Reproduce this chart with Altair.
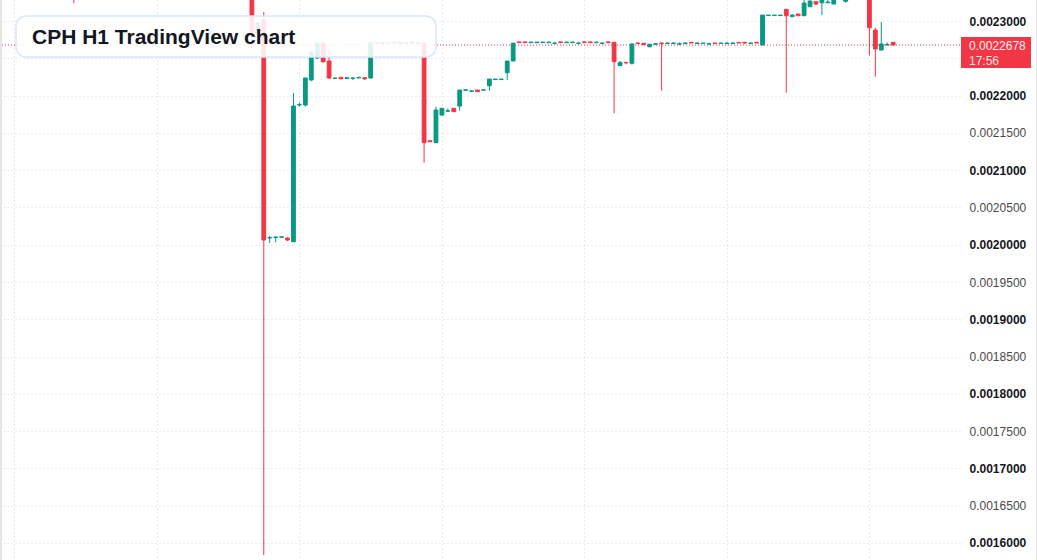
import altair as alt
import pandas as pd

# ---------------- data (hourly candles, index = hour offset) ----------------
idx = [-32, -2, -1, 0, 1, 2, 3, 4, 5, 6, 7, 8, 9, 10, 11, 12, 13, 14, 15, 16, 17, 18, 19,
       20, 21, 22, 23, 24, 25, 26, 27, 28, 29, 30, 31, 32, 33, 34, 35, 36, 37, 38, 39,
       40, 41, 42, 43, 44, 45, 46, 47, 48, 49, 50, 51, 52, 53, 54, 55, 56, 57, 58, 59,
       60, 61, 62, 63, 64, 65, 66, 67, 68, 69, 70, 71, 72, 73, 74, 75, 76, 77, 78, 79,
       80, 81, 82, 83, 84, 85, 86, 87, 88, 89, 90, 91, 92, 93, 94, 95, 96, 98,
       102, 103, 104, 105, 106]

opens = [0.0023450, 0.0023400, 0.0022839, 0.0023013, 0.0020090, 0.0020096, 0.0020100, 0.0020090,
         0.0020040, 0.0021874, 0.0021874, 0.0022209, 0.0022504, 0.0022705, 0.0022464, 0.0022230,
         0.0022245, 0.0022230, 0.0022230, 0.0022236, 0.0022240, 0.0022236, 0.0022715,
         0.0022700, 0.0022705, 0.0022714, 0.0022702, 0.0022705, 0.0022714, 0.0022700,
         0.0022705, 0.0021395, 0.0021368, 0.0021739, 0.0021790, 0.0021829, 0.0021860,
         0.0022070, 0.0022058, 0.0022075, 0.0022072, 0.0022132, 0.0022215,
         0.0022215, 0.0022307, 0.0022464, 0.0022720, 0.0022720, 0.0022710, 0.0022710,
         0.0022710, 0.0022710, 0.0022700, 0.0022720, 0.0022710, 0.0022710, 0.0022700,
         0.0022720, 0.0022720, 0.0022710, 0.0022700, 0.0022720, 0.0022714,
         0.0022401, 0.0022446, 0.0022433, 0.0022705, 0.0022701, 0.0022655, 0.0022688,
         0.0022705, 0.0022698, 0.0022698, 0.0022690, 0.0022698, 0.0022714, 0.0022698,
         0.0022700, 0.0022690, 0.0022705, 0.0022700, 0.0022698, 0.0022698,
         0.0022714, 0.0022714, 0.0022698, 0.0022714, 0.0022678, 0.0023073, 0.0023073,
         0.0023073, 0.0023157, 0.0023058, 0.0023094, 0.0023071, 0.0023192, 0.0023259,
         0.0023245, 0.0023245, 0.0023228, 0.0023265,
         0.0023320, 0.0022879, 0.0022611, 0.0022678, 0.0022714]

highs = [0.0023520, 0.0023450, 0.0023000, 0.0023121, 0.0020117, 0.0020117, 0.0020106, 0.0020103,
         0.0022034, 0.0021904, 0.0022236, 0.0022600, 0.0022714, 0.0022714, 0.0022584, 0.0022240,
         0.0022245, 0.0022240, 0.0022245, 0.0022245, 0.0022240, 0.0022714, 0.0022720,
         0.0022714, 0.0022714, 0.0022714, 0.0022714, 0.0022712, 0.0022718, 0.0022709,
         0.0022715, 0.0021395, 0.0021851, 0.0021835, 0.0021829, 0.0021829, 0.0022075,
         0.0022078, 0.0022075, 0.0022075, 0.0022078, 0.0022222, 0.0022222,
         0.0022222, 0.0022464, 0.0022714, 0.0022720, 0.0022720, 0.0022718, 0.0022718,
         0.0022718, 0.0022718, 0.0022714, 0.0022720, 0.0022718, 0.0022718, 0.0022714,
         0.0022720, 0.0022720, 0.0022718, 0.0022714, 0.0022720, 0.0022720,
         0.0022460, 0.0022450, 0.0022701, 0.0022714, 0.0022705, 0.0022695, 0.0022705,
         0.0022714, 0.0022714, 0.0022714, 0.0022714, 0.0022714, 0.0022718, 0.0022714,
         0.0022705, 0.0022710, 0.0022705, 0.0022705, 0.0022714, 0.0022714,
         0.0022714, 0.0022722, 0.0022714, 0.0022714, 0.0023080, 0.0023080, 0.0023080,
         0.0023080, 0.0023157, 0.0023094, 0.0023094, 0.0023290, 0.0023275, 0.0023268,
         0.0023320, 0.0023310, 0.0023320, 0.0023320,
         0.0023340, 0.0022910, 0.0022987, 0.0022714, 0.0022714]

lows = [0.0023237, 0.0022625, 0.0022800, 0.0015839, 0.0020023, 0.0020030, 0.0020100, 0.0020050,
        0.0020040, 0.0021851, 0.0021851, 0.0022195, 0.0022490, 0.0022440, 0.0022222, 0.0022230,
        0.0022225, 0.0022230, 0.0022209, 0.0022236, 0.0022209, 0.0022230, 0.0022705,
        0.0022700, 0.0022700, 0.0022700, 0.0022698, 0.0022705, 0.0022700, 0.0022698,
        0.0021100, 0.0021381, 0.0021368, 0.0021730, 0.0021784, 0.0021784, 0.0021797,
        0.0022070, 0.0022052, 0.0022052, 0.0022072, 0.0022065, 0.0022215,
        0.0022215, 0.0022209, 0.0022464, 0.0022710, 0.0022710, 0.0022710, 0.0022710,
        0.0022710, 0.0022710, 0.0022690, 0.0022710, 0.0022710, 0.0022710, 0.0022690,
        0.0022710, 0.0022710, 0.0022710, 0.0022690, 0.0022710, 0.0021762,
        0.0022401, 0.0022419, 0.0022415, 0.0022698, 0.0022683, 0.0022650, 0.0022680,
        0.0022065, 0.0022690, 0.0022690, 0.0022675, 0.0022690, 0.0022705, 0.0022690,
        0.0022700, 0.0022680, 0.0022698, 0.0022700, 0.0022690, 0.0022690,
        0.0022705, 0.0022692, 0.0022690, 0.0022705, 0.0022678, 0.0023073, 0.0023073,
        0.0023073, 0.0022039, 0.0023058, 0.0023071, 0.0023071, 0.0023192, 0.0023215,
        0.0023080, 0.0023245, 0.0023228, 0.0023245,
        0.0022535, 0.0022253, 0.0022611, 0.0022678, 0.0022678]

closes = [0.0023400, 0.0022839, 0.0022973, 0.0020063, 0.0020096, 0.0020103, 0.0020106, 0.0020063,
          0.0021860, 0.0021880, 0.0022236, 0.0022584, 0.0022705, 0.0022454, 0.0022236, 0.0022236,
          0.0022225, 0.0022240, 0.0022236, 0.0022245, 0.0022225, 0.0022705, 0.0022705,
          0.0022709, 0.0022712, 0.0022705, 0.0022709, 0.0022712, 0.0022705, 0.0022707,
          0.0021368, 0.0021381, 0.0021807, 0.0021829, 0.0021797, 0.0021784, 0.0022075,
          0.0022078, 0.0022064, 0.0022052, 0.0022078, 0.0022222, 0.0022222,
          0.0022222, 0.0022464, 0.0022701, 0.0022710, 0.0022710, 0.0022718, 0.0022718,
          0.0022718, 0.0022718, 0.0022705, 0.0022710, 0.0022718, 0.0022718, 0.0022705,
          0.0022710, 0.0022710, 0.0022718, 0.0022705, 0.0022710, 0.0022454,
          0.0022446, 0.0022440, 0.0022692, 0.0022698, 0.0022683, 0.0022688, 0.0022695,
          0.0022698, 0.0022705, 0.0022705, 0.0022695, 0.0022705, 0.0022705, 0.0022705,
          0.0022705, 0.0022695, 0.0022698, 0.0022705, 0.0022705, 0.0022705,
          0.0022705, 0.0022705, 0.0022705, 0.0022705, 0.0023080, 0.0023080, 0.0023080,
          0.0023080, 0.0023071, 0.0023080, 0.0023071, 0.0023241, 0.0023268, 0.0023228,
          0.0023300, 0.0023255, 0.0023300, 0.0023300,
          0.0022910, 0.0022625, 0.0022692, 0.0022685, 0.0022678]

# y axis tick labels
yticks = [0.00160, 0.00165, 0.00170, 0.00175, 0.00180, 0.00185, 0.00190, 0.00195,
          0.00200, 0.00205, 0.00210, 0.00215, 0.00220, 0.00225, 0.00230]
# day separators (hour index)
xgrid = [-42, -18, 6, 30, 54, 78, 102]

last_price = [0.0022678]
last_price_label = ["0.0022678"]
countdown_label = ["17:56"]
title_text = "CPH H1 TradingView chart"

GREEN = "#089981"
RED = "#f23645"
FONT = "Liberation Sans"

df = pd.DataFrame({"i": idx, "open": opens, "high": highs, "low": lows, "close": closes})
price_df = pd.DataFrame({"p": last_price, "lbl": last_price_label, "cd": countdown_label})

xscale = alt.Scale(domain=[-43.5833, 116.4167], nice=False, zero=False)
yscale = alt.Scale(domain=[0.0015772, 0.0023282], nice=False, zero=False)

xaxis = alt.Axis(values=xgrid, labels=False, ticks=False, domain=False, title=None,
                 grid=True, gridColor="#d4d4d4", gridDash=[1, 3], gridWidth=1)
yaxis = alt.Axis(values=yticks, orient="right", ticks=False, domain=False, title=None,
                 grid=True, gridColor="#d4d4d4", gridDash=[1, 3], gridWidth=1,
                 labelExpr="abs(datum.value - 0.00225) < 1e-9 ? '' : format(datum.value, '.7f')",
                 labelFont=FONT, labelFontSize=12, labelPadding=9,
                 labelFontWeight={"expr": "round(datum.value*20000) % 2 == 0 ? 'bold' : 'normal'"},
                 labelColor={"expr": "round(datum.value*20000) % 2 == 0 ? '#131722' : '#4a4a4a'"})


def X(field):
    return alt.X(field, type="quantitative", scale=xscale, axis=xaxis)


def Y(field):
    return alt.Y(field, type="quantitative", scale=yscale, axis=yaxis)


color = alt.condition("datum.close >= datum.open", alt.value(GREEN), alt.value(RED))

price_line = alt.Chart(price_df).mark_rule(color=RED, strokeDash=[1, 2], strokeWidth=1).encode(
    y=Y("p")
)

wicks = alt.Chart(df).mark_rule(strokeWidth=1, clip=True).encode(
    x=X("i"), y=Y("low"), y2="high", color=color
)

bodies = alt.Chart(df).mark_bar(size=3.8, strokeWidth=1, clip=True).encode(
    x=X("i"), y=Y("open"), y2="close", fill=color, stroke=color
)

title_box = alt.Chart(price_df).mark_rect(
    cornerRadius=10, fill="white", fillOpacity=0.88, stroke="#d9e6fb", strokeWidth=1.5
).encode(x=alt.value(16), x2=alt.value(436), y=alt.value(16), y2=alt.value(57))

title = alt.Chart(price_df).mark_text(
    text=title_text, align="left", baseline="alphabetic", font=FONT, fontSize=21,
    fontWeight="bold", color="#131722"
).encode(x=alt.value(32), y=alt.value(44))

label_box = alt.Chart(price_df).mark_rect(
    fill=RED, clip=False, yOffset=-8, y2Offset=23
).encode(x=alt.value(961), x2=alt.value(1031), y=Y("p"), y2="p")

label_text = alt.Chart(price_df).mark_text(
    align="left", baseline="middle", font=FONT, fontSize=12, color="#fff2f3", clip=False, dy=0.5
).encode(x=alt.value(969), y=Y("p"), text="lbl:N")

cd_text = alt.Chart(price_df).mark_text(
    align="left", baseline="middle", font=FONT, fontSize=12, color="#fde3e6", clip=False, dy=15.5
).encode(x=alt.value(969), y=Y("p"), text="cd:N")

left_border = alt.Chart(price_df).mark_rule(color="#e6e6e6", strokeWidth=2).encode(
    x=alt.value(1)
)

right_border = alt.Chart(price_df).mark_rule(color="#e6e6e6", strokeWidth=1, clip=False).encode(
    x=alt.value(1036.5)
)

chart = alt.layer(
    price_line, wicks, bodies, title_box, title, label_box, label_text, cd_text,
    left_border, right_border
).properties(
    width=960, height=560,
    padding={"left": 0, "top": 0, "right": 77, "bottom": 0},
    autosize=alt.AutoSizeParams(type="none"),
    background="white"
).configure_view(strokeWidth=0)

chart.save("out.html", embed_options={"renderer": "svg", "actions": False})
